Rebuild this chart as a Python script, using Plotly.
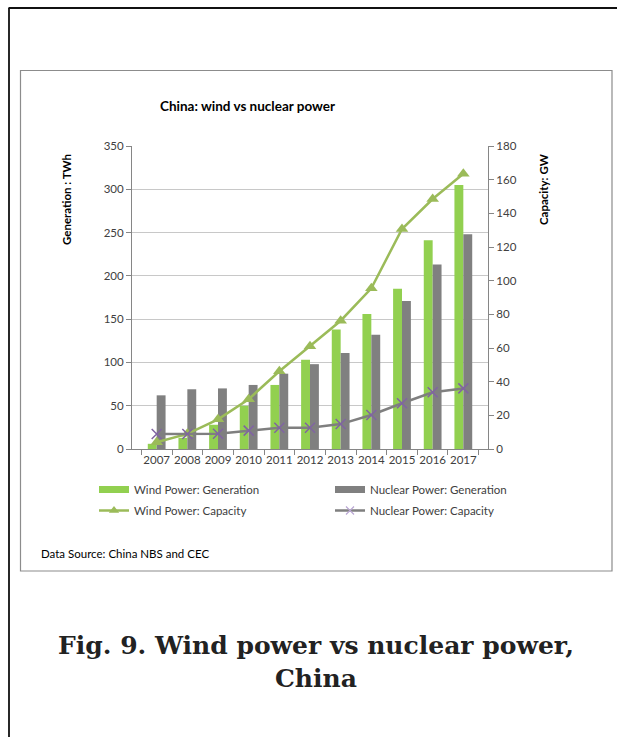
import plotly.graph_objects as go

years = ["2007", "2008", "2009", "2010", "2011", "2012", "2013", "2014", "2015", "2016", "2017"]
wind_gen = [6, 13, 28, 50, 74, 103, 138, 156, 185, 241, 305]
nuclear_gen = [62, 69, 70, 74, 87, 98, 111, 132, 171, 213, 248]
wind_cap = [4, 9, 17.6, 29.6, 46.2, 61, 76.2, 95.5, 130.7, 148.5, 163.5]
nuclear_cap = [8.9, 8.9, 9.1, 10.9, 12.6, 12.6, 14.8, 20.2, 27.2, 33.7, 36]

W, H = 617, 737
L, R, T, B = 132, 488, 146, 449


def px(x):
    return (x - L) / (R - L)


def py(y):
    return (B - y) / (B - T)


FONT = "Lato"
GREEN_BAR = "#92D050"
GRAY_BAR = "#808080"
GREEN_LINE = "#9BBB59"
GRAY_LINE = "#7F7F7F"
PURPLE = "#8064A2"
TXT = "#404040"

fig = go.Figure()

fig.add_trace(go.Bar(x=years, y=wind_gen, name="Wind Power: Generation",
                     marker=dict(color=GREEN_BAR, line=dict(width=0)),
                     showlegend=False))
fig.add_trace(go.Bar(x=years, y=nuclear_gen, name="Nuclear Power: Generation",
                     marker=dict(color=GRAY_BAR, line=dict(width=0)),
                     showlegend=False))
fig.add_trace(go.Scatter(x=years, y=wind_cap, name="Wind Power: Capacity", yaxis="y2",
                         mode="lines+markers",
                         line=dict(color=GREEN_LINE, width=2.5),
                         marker=dict(symbol="triangle-up", size=11, color=GREEN_LINE),
                         showlegend=False))
fig.add_trace(go.Scatter(x=years, y=nuclear_cap, name="Nuclear Power: Capacity", yaxis="y2",
                         mode="lines+markers",
                         line=dict(color=GRAY_LINE, width=2.5),
                         marker=dict(symbol="x-thin", size=10,
                                     line=dict(color=PURPLE, width=1.5), color=PURPLE),
                         showlegend=False))

# legend entries (no data, legend only)
fig.add_trace(go.Scatter(x=[None], y=[None], name="Wind Power: Generation", mode="lines",
                         line=dict(color=GREEN_BAR, width=7), legend="legend",
                         legendgroup="a"))
fig.add_trace(go.Scatter(x=[None], y=[None], name="Wind Power: Capacity", mode="lines+markers",
                         line=dict(color=GREEN_LINE, width=2.5),
                         marker=dict(symbol="triangle-up", size=9, color=GREEN_LINE),
                         legend="legend", legendgroup="b"))
fig.add_trace(go.Scatter(x=[None], y=[None], name="Nuclear Power: Generation", mode="lines",
                         line=dict(color=GRAY_BAR, width=7), legend="legend2",
                         legendgroup="c"))
fig.add_trace(go.Scatter(x=[None], y=[None], name="Nuclear Power: Capacity", mode="lines+markers",
                         line=dict(color=GRAY_LINE, width=2.5),
                         marker=dict(symbol="x-thin", size=8,
                                     line=dict(color="#B9A6D3", width=1.2)),
                         legend="legend2", legendgroup="d"))

shapes = [
    # chart frame
    dict(type="rect", xref="paper", yref="paper", x0=px(20.5), x1=px(612), y0=py(70.5), y1=py(571),
         line=dict(color="#8C8C8C", width=1.2), layer="below"),
    # page lines
    dict(type="line", xref="paper", yref="paper", x0=px(8.5), x1=px(617), y0=py(8), y1=py(8),
         line=dict(color="#111111", width=2)),
    dict(type="line", xref="paper", yref="paper", x0=px(9), x1=px(9), y0=py(8), y1=py(737),
         line=dict(color="#111111", width=1.8)),
]


def ann(text, x, y, size, color="#000000", family=FONT, angle=0, xanchor="center"):
    return dict(text=text, x=px(x), y=py(y), xref="paper", yref="paper",
                xanchor=xanchor, yanchor="middle", showarrow=False, textangle=angle,
                font=dict(family=family, size=size, color=color))


annotations = [
    ann("<b>China: wind vs nuclear power</b>", 247, 106, 13.5),
    ann("<b>Generation : TWh</b>", 66, 200, 11.5, angle=-90),
    ann("<b>Capacity: GW</b>", 543, 190, 11.5, angle=-90),
    ann("Data Source: China NBS and CEC", 39, 553, 11.5, xanchor="left"),
    ann("<b>Fig. 9. Wind power vs nuclear power,<br>China</b>", 316, 662, 25,
        color="#222222", family="DejaVu Serif"),
]

fig.update_layout(
    width=W, height=H,
    margin=dict(l=L, r=W - R, t=T, b=H - B, autoexpand=False),
    paper_bgcolor="white", plot_bgcolor="white",
    barmode="group", bargap=0.42, bargroupgap=0,
    font=dict(family=FONT, size=11, color=TXT),
    xaxis=dict(type="category", showline=True, linecolor="#868686", linewidth=1,
               ticks="outside", tickson="boundaries", ticklen=5, tickcolor="#868686",
               tickangle=0, showgrid=False, tickfont=dict(family=FONT, size=11.5, color=TXT)),
    yaxis=dict(range=[0, 350], dtick=50, showline=True, linecolor="#868686",
               ticks="outside", ticklen=5, tickcolor="#868686",
               showgrid=True, gridcolor="#C8C8C8", gridwidth=1, zeroline=False,
               tickfont=dict(family=FONT, size=11.5, color=TXT)),
    yaxis2=dict(range=[0, 180], dtick=20, overlaying="y", side="right", showline=True,
                linecolor="#868686", ticks="outside", ticklen=5, tickcolor="#868686",
                showgrid=False, zeroline=False, tickfont=dict(family=FONT, size=11.5, color=TXT)),
    legend=dict(x=px(94), y=py(475), xanchor="left", yanchor="top", bgcolor="rgba(0,0,0,0)",
                font=dict(family=FONT, size=11.5, color=TXT), tracegroupgap=2,
                orientation="v"),
    legend2=dict(x=px(330), y=py(475), xanchor="left", yanchor="top", bgcolor="rgba(0,0,0,0)",
                 font=dict(family=FONT, size=11.5, color=TXT), tracegroupgap=2,
                 orientation="v"),
    shapes=shapes,
    annotations=annotations,
)

fig.write_html("out.html", config={"displayModeBar": False},
               post_script="document.body.style.margin='0';document.body.style.overflow='hidden';")
